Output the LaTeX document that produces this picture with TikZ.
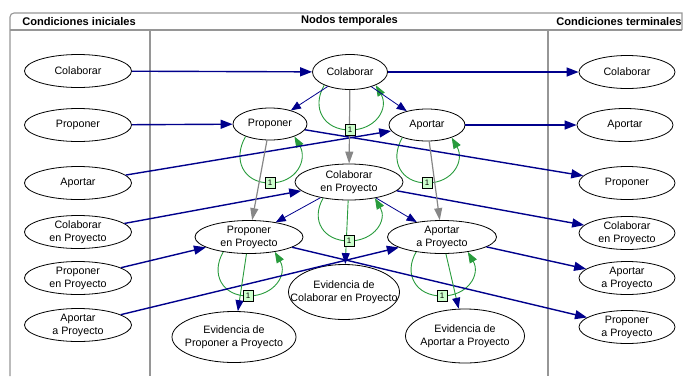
\documentclass[tikz,border=0pt]{standalone}
\usepackage{fontspec}
\setmainfont{Liberation Sans}
\usetikzlibrary{shapes.geometric,arrows.meta}

\definecolor{navyline}{RGB}{0,0,140}
\definecolor{loopgreen}{RGB}{40,155,60}
\definecolor{boxgreen}{RGB}{204,255,204}
\definecolor{framegray}{RGB}{150,150,150}
\definecolor{flowgray}{RGB}{135,135,135}

\tikzset{
  frame/.style={draw=framegray, line width=1.1pt},
  state/.style={ellipse, draw, fill=white, line width=0.8pt, inner sep=0pt},
  side/.style={state, minimum width=107pt, minimum height=33pt},
  term/.style={state, minimum width=96pt, minimum height=33pt},
  lbl/.style={font=\fontsize{10.7}{13}\selectfont, align=center, inner sep=0pt},
  hdr/.style={font=\fontsize{11.1}{13}\selectfont\bfseries, inner sep=0pt},
  trans/.style={draw=navyline, line width=1.4pt, -{Triangle[length=12pt,width=9pt]}},
  spawn/.style={draw=navyline, line width=0.8pt, -{Triangle[length=10pt,width=8pt]}},
  carry/.style={draw=flowgray, line width=1.2pt, -{Triangle[length=12pt,width=8pt]}},
  yield/.style={draw=loopgreen, line width=0.9pt, -{Triangle[length=11pt,width=8pt,color=navyline]}},
  selfloop/.style={draw=loopgreen, line width=0.9pt, -{Triangle[length=11pt,width=8pt]}},
  count/.style={draw, fill=boxgreen, line width=0.6pt, font=\fontsize{8}{9}\selectfont,
    inner sep=0pt, minimum width=10pt, minimum height=11pt},
}

\begin{document}
\begin{tikzpicture}[x=1pt,y=1pt]
\useasboundingbox (0,0) rectangle (683,-376);

% swimlane frame
\draw[frame] (10,-376) -- (10,-17) arc[start angle=180,end angle=90,radius=4] -- (682,-13) -- (682,-30);
\draw[frame] (10,-30) -- (682,-30);
\draw[frame] (150,-30) -- (150,-376);
\draw[frame] (548,-30) -- (548,-376);

\node[hdr] (h1) at (79,-21.5) {Condiciones iniciales};
\node[hdr] (h2) at (349.5,-21) {Nodos temporales};
\node[hdr] (h3) at (619,-21.5) {Condiciones terminales};

% initial conditions
\node[side] (lA) at (78,-71) {};
\node[side] (lB) at (78,-125) {};
\node[side] (lC) at (78,-183) {};
\node[side] (lD) at (78,-232) {};
\node[side] (lE) at (78,-278) {};
\node[side] (lF) at (78,-325) {};
\node[lbl] (lA-t) at (lA) {Colaborar};
\node[lbl] (lB-t) at (lB) {Proponer};
\node[lbl] (lC-t) at (lC) {Aportar};
\node[lbl] (lD-t) at (lD) {Colaborar\\en Proyecto};
\node[lbl] (lE-t) at (lE) {Proponer\\en Proyecto};
\node[lbl] (lF-t) at (lF) {Aportar\\a Proyecto};

% terminal conditions
\node[term] (rA) at (627,-72) {};
\node[term] (rB) at (625,-125) {};
\node[term] (rC) at (627,-183) {};
\node[term] (rD) at (627,-233) {};
\node[term] (rE) at (627,-278) {};
\node[term] (rF) at (627,-327) {};
\node[lbl] (rA-t) at (rA) {Colaborar};
\node[lbl] (rB-t) at (rB) {Aportar};
\node[lbl] (rC-t) at (rC) {Proponer};
\node[lbl] (rD-t) at (rD) {Colaborar\\en Proyecto};
\node[lbl] (rE-t) at (rE) {Aportar\\a Proyecto};
\node[lbl] (rF-t) at (rF) {Proponer\\a Proyecto};

% temporal nodes
\node[state, minimum width=75pt, minimum height=35pt] (mA) at (350,-72) {};
\node[state, minimum width=74pt, minimum height=32pt] (mB) at (270,-124) {};
\node[state, minimum width=76pt, minimum height=32pt] (mC) at (427,-125) {};
\node[state, minimum width=108pt, minimum height=36pt] (mD) at (349,-182) {};
\node[state, minimum width=108pt, minimum height=33pt] (mE) at (249,-237) {};
\node[state, minimum width=109pt, minimum height=33pt] (mF) at (442,-237) {};
\node[state, minimum width=111pt, minimum height=55pt] (eD) at (344,-292) {};
\node[state, minimum width=124pt, minimum height=51pt] (eE) at (234,-337) {};
\node[state, minimum width=119pt, minimum height=54pt] (eF) at (465,-336) {};
\node[lbl] (mA-t) at (mA) {Colaborar};
\node[lbl] (mB-t) at (mB) {Proponer};
\node[lbl] (mC-t) at (mC) {Aportar};
\node[lbl] (mD-t) at (mD) {Colaborar\\en Proyecto};
\node[lbl] (mE-t) at (mE) {Proponer\\en Proyecto};
\node[lbl] (mF-t) at (mF) {Aportar\\a Proyecto};
\node[lbl] (eD-t) at (eD) {Evidencia de\\Colaborar en Proyecto};
\node[lbl] (eE-t) at (eE) {Evidencia de\\Proponer a Proyecto};
\node[lbl] (eF-t) at (eF) {Evidencia de\\Aportar a Proyecto};

% self loops, counters placed afterwards
\coordinate (kA) at (350,-130);
\coordinate (kB) at (270,-183);
\coordinate (kC) at (427,-183);
\coordinate (kD) at (349,-241);
\coordinate (kE) at (248,-296);
\coordinate (kF) at (442,-296);
\draw[selfloop] (mA.207) to[out=240,in=180,looseness=1.3] (kA) to[out=0,in=300,looseness=1.3] (mA.333);
\draw[selfloop] (mB.207) to[out=240,in=180,looseness=1.3] (kB) to[out=0,in=300,looseness=1.3] (mB.333);
\draw[selfloop] (mC.207) to[out=240,in=180,looseness=1.3] (kC) to[out=0,in=300,looseness=1.3] (mC.333);
\draw[selfloop] (mD.212) to[out=240,in=180,looseness=1.3] (kD) to[out=0,in=300,looseness=1.3] (mD.328);
\draw[selfloop] (mE.210) to[out=240,in=180,looseness=1.3] (kE) to[out=0,in=300,looseness=1.3] (mE.330);
\draw[selfloop] (mF.210) to[out=240,in=180,looseness=1.3] (kF) to[out=0,in=300,looseness=1.3] (mF.330);

% entry transitions
\draw[trans] (lA) -- (mA);
\draw[trans] (lB) -- (mB);
\draw[trans] (lC) -- (mC);
\draw[trans] (lD) -- (mD);
\draw[trans] (lE) -- (mE);
\draw[trans] (lF) -- (mF);

% exit transitions
\draw[trans] (mA) -- (rA);
\draw[trans] (mC) -- (rB);
\draw[trans] (mB) -- (rC);
\draw[trans] (mD) -- (rD);
\draw[trans] (mF) -- (rE);
\draw[trans] (mE) -- (rF);

% internal links
\draw[spawn] (mA) -- (mB);
\draw[spawn] (mA) -- (mC);
\draw[spawn] (mD) -- (mE);
\draw[spawn] (mD) -- (mF);
\draw[carry] (mA) -- (mD);
\draw[carry] (mB) -- (mE);
\draw[carry] (mC) -- (mF);
\draw[yield] (mD) -- (eD);
\draw[yield] (mE) -- (eE);
\draw[yield] (mF) -- (eF);

% loop counters
\node[count] (nA) at (kA) {1};
\node[count] (nB) at (kB) {1};
\node[count] (nC) at (kC) {1};
\node[count] (nD) at (kD) {1};
\node[count] (nE) at (kE) {1};
\node[count] (nF) at (kF) {1};
\end{tikzpicture}
\end{document}
